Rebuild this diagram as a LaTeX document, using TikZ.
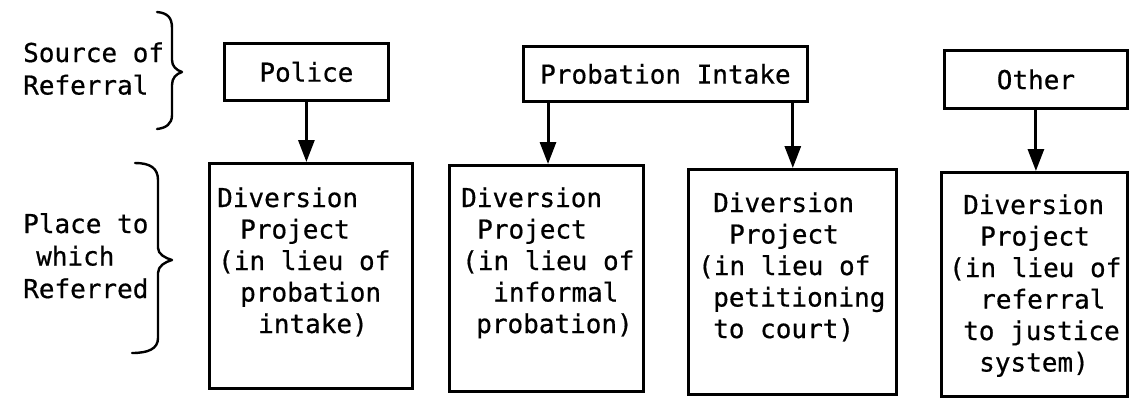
\documentclass[tikz,border=0pt]{standalone}
\usepackage{fontspec}
\setmonofont[FakeBold=0.6]{DejaVu Sans Mono}
\usetikzlibrary{arrows.meta}

\begin{document}
\begin{tikzpicture}[x=1pt,y=-1pt,
  box/.style={draw, line width=2.8pt, inner sep=0pt, anchor=north west,
              font=\ttfamily\fontsize{26}{31.5}\selectfont},
  lbl/.style={anchor=base west, inner sep=0pt},
  txt/.style={font=\ttfamily\fontsize{26}{31.5}\selectfont},
  side/.style={font=\ttfamily\fontsize{26}{32.5}\selectfont},
  link/.style={line width=3pt, -{Triangle[length=22pt,width=16pt]}},
  brace/.style={line width=2.4pt, line cap=round, line join=round}]
\useasboundingbox (0,0) rectangle (1131,397);

% row headings
\node[lbl, side] (srclbl) at (23,62)
  {\begin{tabular}[t]{@{}l@{}}Source of\\Referral\end{tabular}};
\node[lbl, side] (placelbl) at (23,233)
  {\begin{tabular}[t]{@{}l@{}}Place to\\\hspace*{13pt}which\\Referred\end{tabular}};

% curly braces
\draw[brace] (157,12) .. controls (168,13) and (172,18) .. (172,28) -- (172,60)
  .. controls (172,66) and (176,70) .. (182,72)
  .. controls (176,74) and (172,78) .. (172,85) -- (172,115)
  .. controls (172,124) and (166,128) .. (157,129);
\draw[brace] (135,163) .. controls (150,163) and (158,168) .. (158,180) -- (158,248)
  .. controls (158,254) and (165,258) .. (172,260)
  .. controls (165,262) and (158,266) .. (158,273) -- (158,338)
  .. controls (158,349) and (148,353) .. (132,353);

% sources of referral
\node[box, minimum width=164pt, minimum height=57pt] (police) at (223,42) {Police};
\node[box, minimum width=284pt, minimum height=55pt] (intake) at (522,45) {Probation Intake};
\node[box, minimum width=183pt, minimum height=58pt] (other) at (943,49) {Other};

% places to which referred
\node[box, minimum width=203pt, minimum height=225pt] (d1) at (208,162) {};
\node[box, minimum width=194pt, minimum height=226pt] (d2) at (448,164) {};
\node[box, minimum width=208pt, minimum height=225pt] (d3) at (687,168) {};
\node[box, minimum width=186pt, minimum height=224pt] (d4) at (940,171) {};

\node[lbl, txt] (t1) at (217,207) {\begin{tabular}[t]{@{}l@{}}
  Diversion\\\hspace*{23pt}Project\\\hspace*{1pt}(in lieu of\\
  \hspace*{23pt}probation\\\hspace*{41pt}intake)\end{tabular}};
\node[lbl, txt] (t2) at (461,207) {\begin{tabular}[t]{@{}l@{}}
  Diversion\\\hspace*{16pt}Project\\\hspace*{1pt}(in lieu of\\
  \hspace*{32pt}informal\\\hspace*{15pt}probation)\end{tabular}};
\node[lbl, txt] (t3) at (698,212) {\begin{tabular}[t]{@{}l@{}}
  \hspace*{15pt}Diversion\\\hspace*{31pt}Project\\(in lieu of\\
  \hspace*{15pt}petitioning\\\hspace*{15pt}to court)\end{tabular}};
\node[lbl, txt] (t4) at (949,214) {\begin{tabular}[t]{@{}l@{}}
  \hspace*{14pt}Diversion\\\hspace*{31pt}Project\\(in lieu of\\
  \hspace*{31pt}referral\\\hspace*{14pt}to justice\\\hspace*{30pt}system)\end{tabular}};

% referral arrows
\draw[link] (police.south) -- (police.south |- d1.north);
\draw[link] ([xshift=26pt]intake.south west) -- ([xshift=26pt]intake.south west |- d2.north);
\draw[link] ([xshift=-16pt]intake.south east) -- ([xshift=-16pt]intake.south east |- d3.north);
\draw[link] (other.south) -- (other.south |- d4.north);
\end{tikzpicture}
\end{document}
